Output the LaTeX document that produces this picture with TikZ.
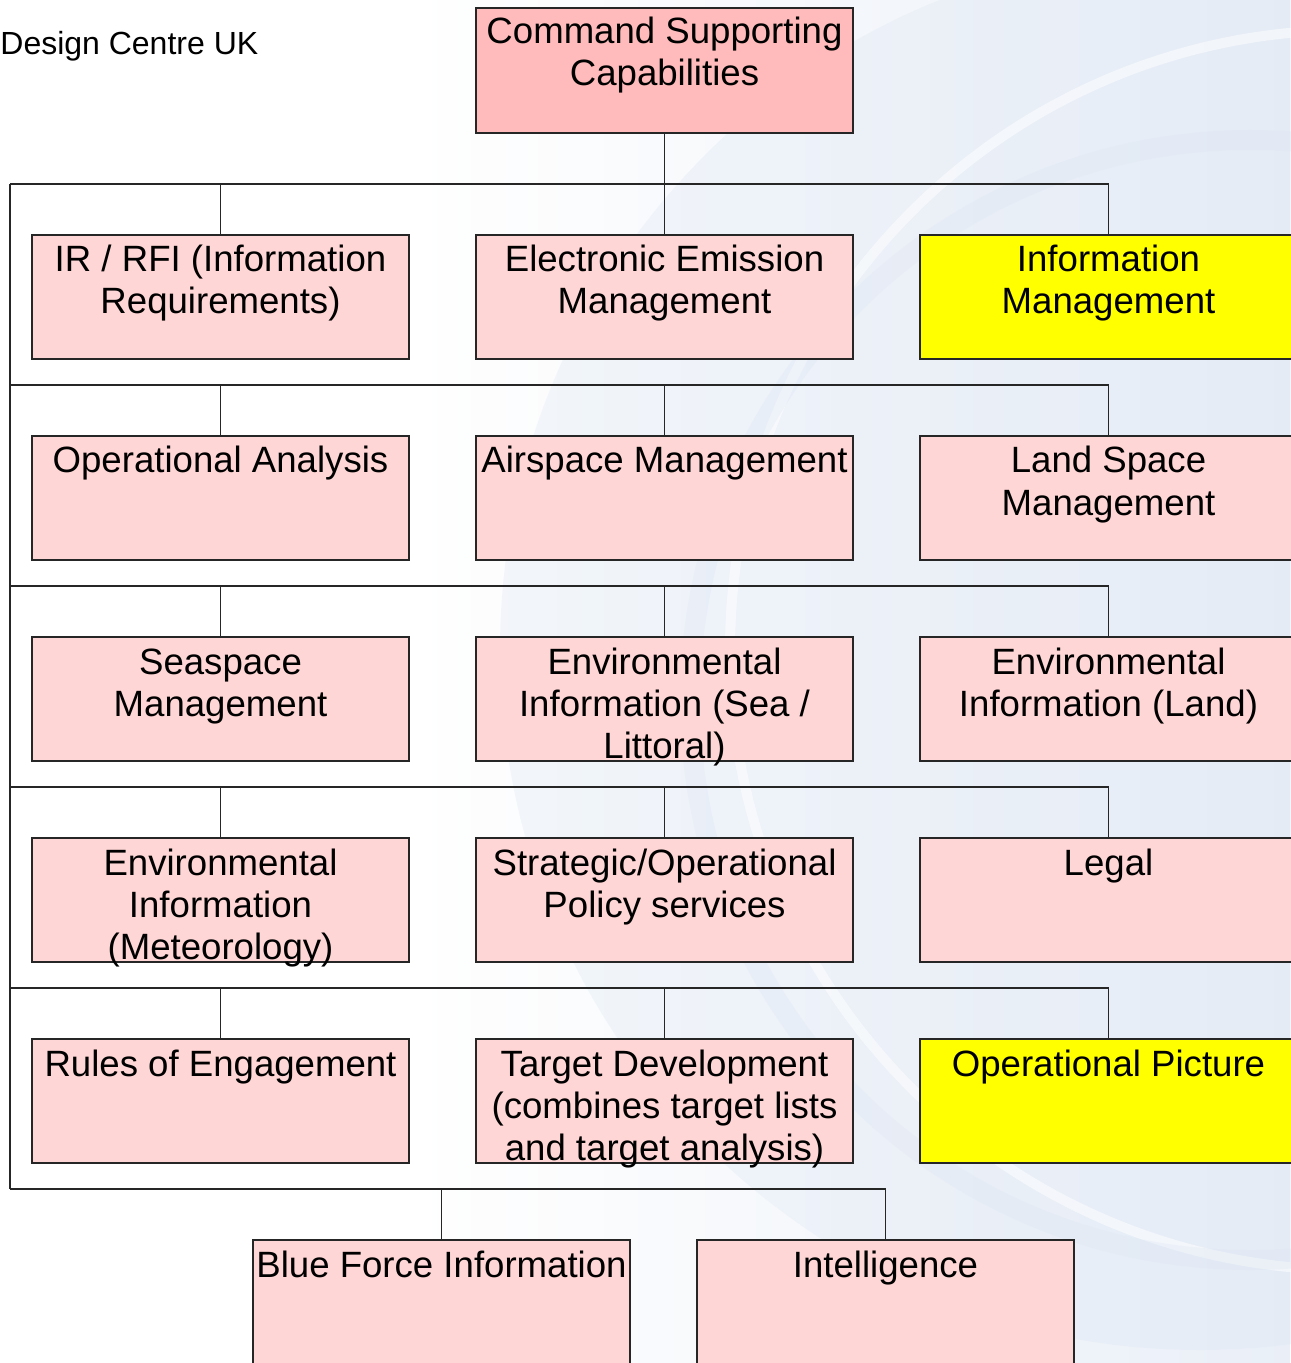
\documentclass[tikz,border=0pt]{standalone}
\usepackage{fontspec}
\setmainfont{Liberation Sans}
\usetikzlibrary{calc}
\definecolor{boxpink}{RGB}{255,214,214}
\definecolor{toppink}{RGB}{255,187,187}
\definecolor{hiyellow}{RGB}{255,255,0}
\definecolor{bgblue}{RGB}{220,229,243}
\newcommand{\boxtext}[1]{\parbox[t][62pt][t]{188.5pt}{\centering\rule{0pt}{18.5pt}#1}}
\tikzset{
  basebox/.style={draw=black!85, line width=0.8pt, fill=boxpink, inner sep=0pt,
    font=\fontsize{18.3}{21}\selectfont},
  capbox/.style={basebox},
  hilite/.style={basebox, fill=hiyellow},
  topbox/.style={basebox, fill=toppink},
  wire/.style={draw=black!85, line width=0.8pt}
}
\begin{document}
\begin{tikzpicture}[x=0.5pt,y=-0.5pt]
	\useasboundingbox (0,0) rectangle (1290,1363);
	\fill[white] (0,0) rectangle (1290,1363);
	\shade[left color=white, right color=bgblue, opacity=0.6] (420,0) rectangle (1290,1363);
	\fill[bgblue, opacity=0.3] (1200,650) circle (700);
	\draw[white, line width=5pt, opacity=0.5] (1350,650) circle (620);
	\draw[bgblue, line width=10pt, opacity=0.3] (1250,700) circle (560);
	\node[anchor=base west, inner sep=0pt, font=\fontsize{16}{18}\selectfont] (dcuk) at (0,55) {Design Centre UK};
	\node[topbox] (csc) at (664.5,70.5) {\parbox[t][62.5pt][t]{188.5pt}{\centering\rule{0pt}{18pt}Command Supporting\\Capabilities}};
	\node[capbox] (irrfi) at (220.5,297) {\boxtext{IR / RFI (Information\\Requirements)}};
	\node[capbox] (eem) at (664.5,297) {\boxtext{Electronic Emission\\Management}};
	\node[hilite] (infom) at (1108.5,297) {\boxtext{Information\\Management}};
	\node[capbox] (opana) at (220.5,498) {\boxtext{Operational Analysis}};
	\node[capbox] (airsp) at (664.5,498) {\boxtext{Airspace Management}};
	\node[capbox] (landsp) at (1108.5,498) {\boxtext{Land Space\\Management}};
	\node[capbox] (seasp) at (220.5,699) {\boxtext{Seaspace\\Management}};
	\node[capbox] (envsea) at (664.5,699) {\boxtext{Environmental\\Information (Sea /\\Littoral)}};
	\node[capbox] (envland) at (1108.5,699) {\boxtext{Environmental\\Information (Land)}};
	\node[capbox] (envmet) at (220.5,900) {\boxtext{Environmental\\Information\\(Meteorology)}};
	\node[capbox] (stratpol) at (664.5,900) {\boxtext{Strategic/Operational\\Policy services}};
	\node[capbox] (legal) at (1108.5,900) {\boxtext{Legal}};
	\node[capbox] (roe) at (220.5,1101) {\boxtext{Rules of Engagement}};
	\node[capbox] (target) at (664.5,1101) {\boxtext{Target Development\\(combines target lists\\and target analysis)}};
	\node[hilite] (oppic) at (1108.5,1101) {\boxtext{Operational Picture}};
	\node[capbox] (blueforce) at (441.5,1302) {\boxtext{Blue Force Information}};
	\node[capbox] (intel) at (885.5,1302) {\boxtext{Intelligence}};
	\coordinate (s1) at (10,184);
	\coordinate (s2) at (10,385);
	\coordinate (s3) at (10,586);
	\coordinate (s4) at (10,787);
	\coordinate (s5) at (10,988);
	\coordinate (s6) at (10,1189);
	\draw[wire] (csc.south) -- (csc.south |- s1);
	\draw[wire] (s1) -- (s6);
	\foreach \a/\b/\c [count=\i] in {irrfi/eem/infom, opana/airsp/landsp, seasp/envsea/envland, envmet/stratpol/legal, roe/target/oppic}{
		\draw[wire] (s\i) -| (\c.north);
		\draw[wire] (\a.north) -- (\a.north |- s\i);
		\draw[wire] (\b.north) -- (\b.north |- s\i);
	}
	\draw[wire] (s6) -| (intel.north);
	\draw[wire] (blueforce.north) -- (blueforce.north |- s6);
\end{tikzpicture}
\end{document}
